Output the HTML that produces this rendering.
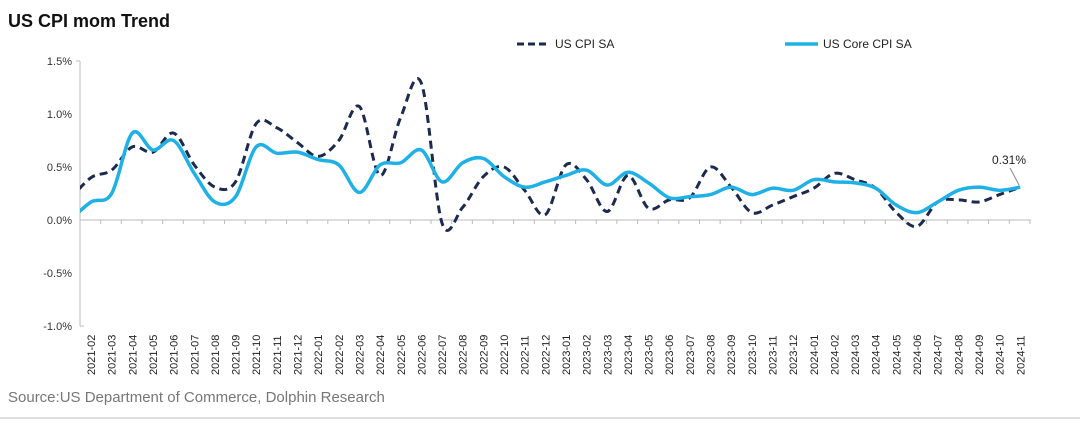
<!DOCTYPE html>
<html><head><meta charset="utf-8"><style>
html,body{margin:0;padding:0;background:#fff;}
body{width:1080px;height:420px;overflow:hidden;font-family:"Liberation Sans",sans-serif;}
</style></head><body>
<svg id="c" width="1080" height="420" xmlns="http://www.w3.org/2000/svg" font-family="Liberation Sans, sans-serif">
<text x="8" y="27" font-size="18" font-weight="bold" fill="#111">US CPI mom Trend</text>
<line x1="517" y1="44" x2="550" y2="44" stroke="#1b2a4e" stroke-width="3" stroke-dasharray="7,4"/>
<text x="555" y="48" font-size="12" fill="#222">US CPI SA</text>
<line x1="785" y1="44" x2="818" y2="44" stroke="#1fb0e6" stroke-width="3.5"/>
<text x="823" y="48" font-size="12" fill="#222">US Core CPI SA</text>
<g font-size="11" fill="#333" text-anchor="end">
<text x="72" y="65">1.5%</text><text x="72" y="118">1.0%</text><text x="72" y="171">0.5%</text>
<text x="72" y="224">0.0%</text><text x="72" y="277">-0.5%</text><text x="72" y="330">-1.0%</text>
</g>
<line x1="80" y1="61" x2="80" y2="326" stroke="#bbb"/>
<line x1="80" y1="61" x2="76" y2="61" stroke="#bbb"/>
<line x1="80" y1="326" x2="84" y2="326" stroke="#bbb"/>
<line x1="80" y1="220" x2="1031" y2="220" stroke="#bbb"/>
<g id="ticks" stroke="#bbb"></g>
<g id="xl" font-size="11" fill="#222"></g>
<defs><clipPath id="cp"><rect x="80" y="50" width="960" height="300"/></clipPath></defs>
<path id="dash" clip-path="url(#cp)" fill="none" stroke="#1b2a4e" stroke-width="3" stroke-dasharray="8,5"/>
<path id="solid" clip-path="url(#cp)" fill="none" stroke="#1fb0e6" stroke-width="3.5"/>
<line x1="1010" y1="168" x2="1019" y2="185" stroke="#888" stroke-width="1"/>
<text x="992" y="164" font-size="12" fill="#222">0.31%</text>
<text x="8" y="402" font-size="15" fill="#777">Source:US Department of Commerce, Dolphin Research</text>
<line x1="0" y1="418" x2="1080" y2="418" stroke="#ddd" stroke-width="2"/>
</svg>
<script>
var d=[0.2,0.40,0.47,0.69,0.64,0.82,0.52,0.31,0.36,0.91,0.87,0.73,0.60,0.75,1.07,0.42,0.97,1.29,-0.03,0.12,0.41,0.50,0.28,0.05,0.52,0.38,0.08,0.42,0.11,0.19,0.21,0.50,0.31,0.07,0.14,0.22,0.30,0.44,0.38,0.30,0.07,-0.06,0.17,0.19,0.17,0.24,0.31];
var s=[0.0,0.17,0.25,0.82,0.66,0.75,0.44,0.17,0.22,0.69,0.63,0.64,0.57,0.52,0.26,0.52,0.54,0.66,0.36,0.54,0.58,0.41,0.31,0.36,0.42,0.47,0.33,0.45,0.35,0.21,0.22,0.24,0.31,0.24,0.30,0.28,0.38,0.36,0.35,0.30,0.14,0.07,0.17,0.28,0.31,0.28,0.31];
function X(i){return 91+20.65*(i-1);}function Y(v){return 220-v*106;}
function path(a){var p=a.map(function(v,i){return [X(i),Y(v)];});var str="M"+p[0][0]+","+p[0][1];
for(var i=0;i<p.length-1;i++){var p0=p[Math.max(0,i-1)],p1=p[i],p2=p[i+1],p3=p[Math.min(p.length-1,i+2)];var t=6;
str+=" C"+(p1[0]+(p2[0]-p0[0])/t)+","+(p1[1]+(p2[1]-p0[1])/t)+" "+(p2[0]-(p3[0]-p1[0])/t)+","+(p2[1]-(p3[1]-p1[1])/t)+" "+p2[0]+","+p2[1];}return str;}
document.getElementById("dash").setAttribute("d",path(d));
document.getElementById("solid").setAttribute("d",path(s));
var ns="http://www.w3.org/2000/svg",tk=document.getElementById("ticks"),xl=document.getElementById("xl");
for(var k=1;k<=46;k++){var l=document.createElementNS(ns,"line");var x=80+20.65*k;l.setAttribute("x1",x);l.setAttribute("x2",x);l.setAttribute("y1",220);l.setAttribute("y2",224);tk.appendChild(l);}
for(var i=0;i<46;i++){var m=i+1,y=2021+Math.floor(m/12),mo=m%12+1;var t=document.createElementNS(ns,"text");var x=X(i+1)+4;
t.setAttribute("transform","translate("+x+",375) rotate(-90)");t.textContent=y+"-"+(mo<10?"0":"")+mo;xl.appendChild(t);}
</script>
</body></html>
